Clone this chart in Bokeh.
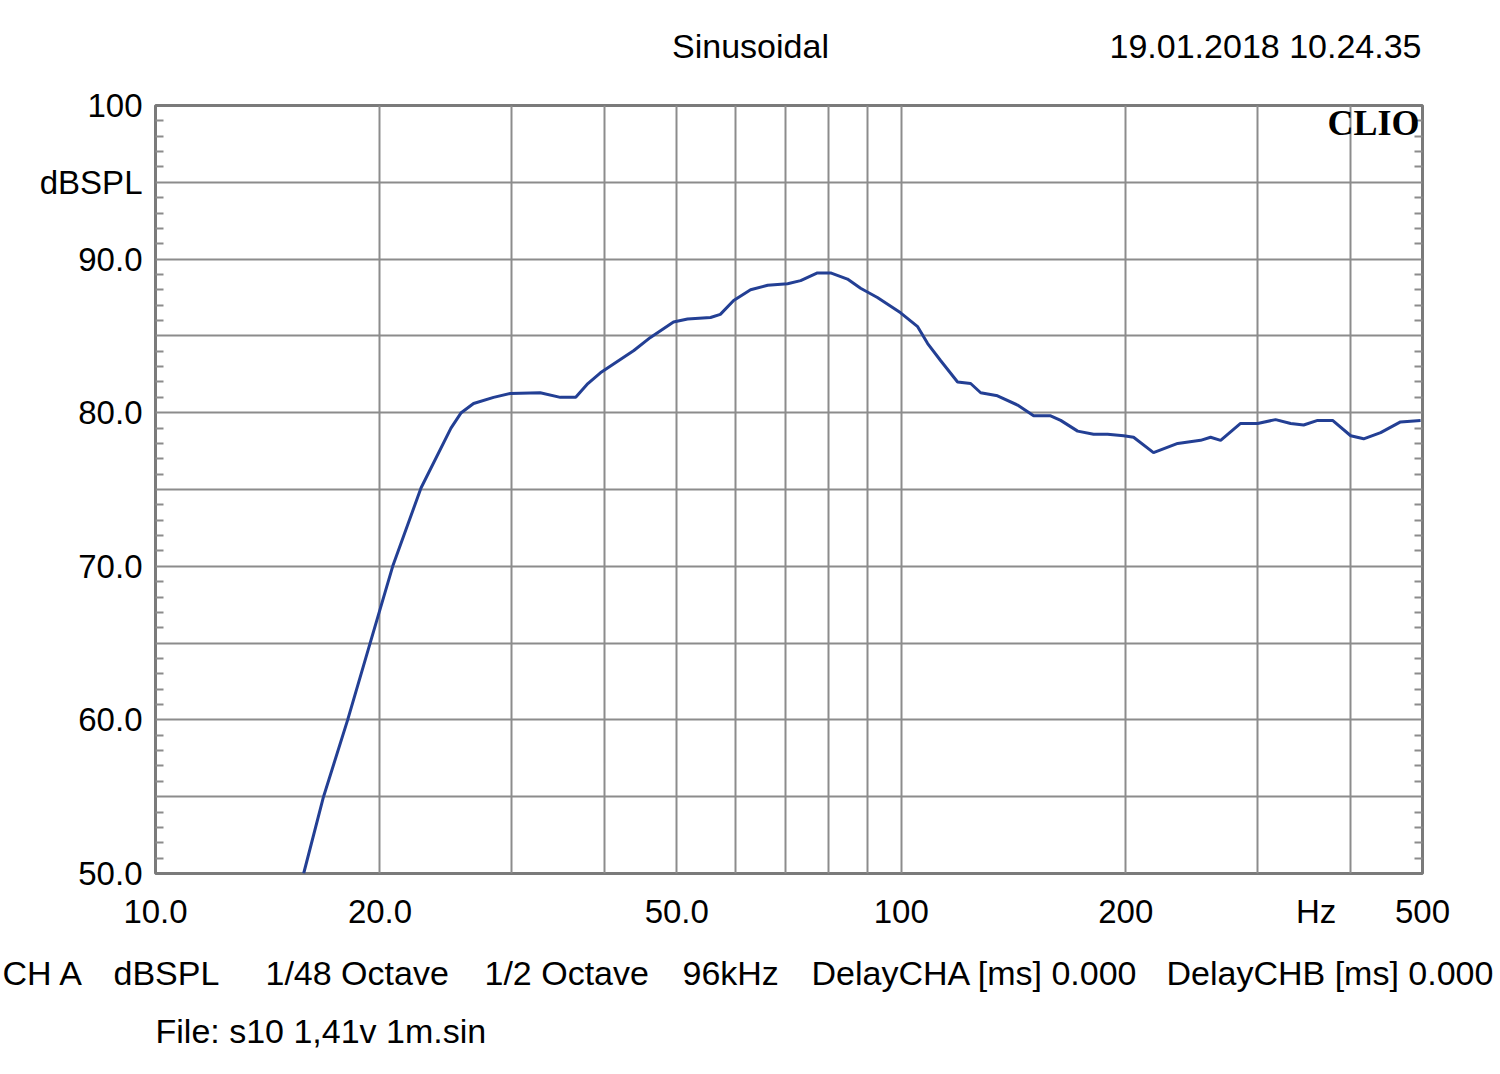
import math
from bokeh.plotting import figure
from bokeh.layouts import column
from bokeh.models import FixedTicker, Label, LinearAxis, Range1d
from bokeh.embed import file_html
from bokeh.resources import INLINE

# ---------------- data ----------------
freq_hz = [15.8, 16.8, 18.1, 19.4, 20.8, 22.7, 24.9, 25.7, 26.7, 28.4, 29.9, 32.8,
           34.9, 36.6, 38.0, 39.5, 43.8, 46.1, 49.5, 51.7, 55.5, 57.2, 59.6, 62.8,
           66.2, 70.4, 73.3, 77.2, 80.4, 84.7, 88.2, 92.9, 99.8, 105.2, 108.5, 112.9,
           119.0, 123.9, 127.8, 134.6, 143.2, 150.5, 158.6, 163.6, 172.4, 181.1, 189.1,
           198.7, 204.9, 217.9, 234.8, 252.0, 259.9, 268.1, 285.1, 300.5, 317.7, 332.8,
           346.4, 361.7, 378.8, 400.6, 416.9, 439.4, 467.2, 497.1]
spl_db = [50.0, 55.0, 60.0, 65.0, 70.0, 75.1, 79.0, 80.0, 80.6, 81.0, 81.25, 81.3,
          81.0, 81.0, 81.9, 82.6, 84.05, 84.9, 85.9, 86.1, 86.2, 86.4, 87.3, 88.0,
          88.3, 88.4, 88.6, 89.1, 89.1, 88.7, 88.1, 87.5, 86.5, 85.6, 84.5, 83.4,
          82.0, 81.9, 81.3, 81.1, 80.5, 79.8, 79.8, 79.5, 78.8, 78.6, 78.6,
          78.5, 78.4, 77.4, 78.0, 78.2, 78.4, 78.2, 79.3, 79.3, 79.55, 79.3,
          79.2, 79.5, 79.5, 78.5, 78.3, 78.7, 79.4, 79.5]

x_tick_values = [10, 20, 50, 100, 200, 360, 500]
x_tick_labels = ["10.0", "20.0", "50.0", "100", "200", "Hz", "500"]
x_grid_values = [20, 30, 40, 50, 60, 70, 80, 90, 100, 200, 300, 400]
y_tick_values = [50, 60, 70, 80, 90, 95, 100]
y_tick_labels = ["50.0", "60.0", "70.0", "80.0", "90.0", "dBSPL", "100"]
y_grid_values = [55, 60, 65, 70, 75, 80, 85, 90, 95]
y_minor_values = [v for v in range(51, 100) if v % 5 != 0]

title_text = "Sinusoidal"
date_text = "19.01.2018 10.24.35"
brand_text = "CLIO"
footer_items = ["CH A", "dBSPL", "1/48 Octave", "1/2 Octave", "96kHz",
                "DelayCHA [ms] 0.000", "DelayCHB [ms] 0.000"]
file_text = "File: s10 1,41v 1m.sin"

# ---------------- layout ----------------
X_MIN, X_MAX, Y_MIN, Y_MAX = 10, 500, 50, 100
W = 1500
HEAD_H = 80
LEFT, FW, TOP, FH, BOTTOM = 155, 1267, 25, 768, 67
RIGHT = W - LEFT - FW
MAIN_H = TOP + FH + BOTTOM
FOOT_H = 126
FRAME_TOP_PAGE = HEAD_H + TOP

GRID = "#8c8c8c"
FONT = "Liberation Sans"


def px_to_x(px):
    return 10 ** (math.log10(X_MIN) + (px - LEFT) / FW * math.log10(X_MAX / X_MIN))


def py_to_y(py):
    return Y_MAX - (py - FRAME_TOP_PAGE) / FH * (Y_MAX - Y_MIN)


def text_panel(height):
    f = figure(width=W, height=height, x_range=Range1d(0, W), y_range=Range1d(height, 0),
               x_axis_location=None, y_axis_location=None,
               output_backend="svg", toolbar_location=None,
               min_border_left=0, min_border_right=0, min_border_top=0, min_border_bottom=0)
    f.frame_align = False
    f.grid.visible = False
    f.outline_line_color = None
    return f


def add_label(f, txt, x, y, size="34px", align="left", font=FONT, style="normal"):
    f.add_layout(Label(x=x, y=y, text=txt, text_font=font, text_font_size=size,
                       text_font_style=style, text_color="black",
                       text_align=align, text_baseline="middle"))


# ---------------- header ----------------
head = text_panel(HEAD_H)
add_label(head, title_text, 750, 45, align="center")
add_label(head, date_text, 1421, 45, align="right")

# ---------------- main chart ----------------
p = figure(width=W, height=MAIN_H, x_axis_type="log",
           x_range=Range1d(X_MIN, X_MAX), y_range=Range1d(Y_MIN, Y_MAX),
           output_backend="svg", toolbar_location=None,
           min_border_left=LEFT, min_border_right=RIGHT,
           min_border_top=TOP, min_border_bottom=BOTTOM)
p.frame_align = False

p.outline_line_color = "#7a7a7a"
p.outline_line_width = 3

p.xgrid.ticker = FixedTicker(ticks=x_grid_values)
p.ygrid.ticker = FixedTicker(ticks=y_grid_values)
for g in (p.xgrid, p.ygrid):
    g.grid_line_color = GRID
    g.grid_line_width = 2

xa = p.xaxis[0]
xa.ticker = FixedTicker(ticks=x_tick_values)
xa.major_label_overrides = {v: s for v, s in zip(x_tick_values, x_tick_labels)}
xa.axis_line_color = None
xa.major_tick_line_color = None
xa.minor_tick_line_color = None
xa.major_label_text_font = FONT
xa.major_label_text_font_size = "33px"
xa.major_label_text_color = "black"
xa.major_label_standoff = 13

ya = p.yaxis[0]
ya.ticker = FixedTicker(ticks=y_tick_values, minor_ticks=y_minor_values)
ya.major_label_overrides = {v: s for v, s in zip(y_tick_values, y_tick_labels)}
ya.axis_line_color = None
ya.major_tick_line_color = None
ya.minor_tick_line_color = GRID
ya.minor_tick_line_width = 2
ya.minor_tick_in = 8
ya.minor_tick_out = 0
ya.major_label_text_font = FONT
ya.major_label_text_font_size = "33px"
ya.major_label_text_color = "black"
ya.major_label_standoff = 7

ra = LinearAxis(ticker=FixedTicker(ticks=[], minor_ticks=y_minor_values))
ra.axis_line_color = None
ra.major_tick_line_color = None
ra.major_label_text_color = None
ra.minor_tick_line_color = GRID
ra.minor_tick_line_width = 2
ra.minor_tick_in = 8
ra.minor_tick_out = 0
p.add_layout(ra, "right")

p.line(freq_hz, spl_db, line_color="#233f94", line_width=3)

p.add_layout(Label(x=px_to_x(1419), y=py_to_y(122), text=brand_text,
                   text_font="Liberation Serif", text_font_size="36px",
                   text_font_style="bold", text_color="black",
                   text_align="right", text_baseline="middle"))

# ---------------- footer ----------------
foot = text_panel(FOOT_H)
footer_x = [2, 113, 265, 484, 682, 811, 1166]
for txt, fx in zip(footer_items, footer_x):
    add_label(foot, txt, fx, 32)
add_label(foot, file_text, 155, 90)

layout = column(head, p, foot, spacing=0)
open("out.html", "w").write(file_html(layout, INLINE))
